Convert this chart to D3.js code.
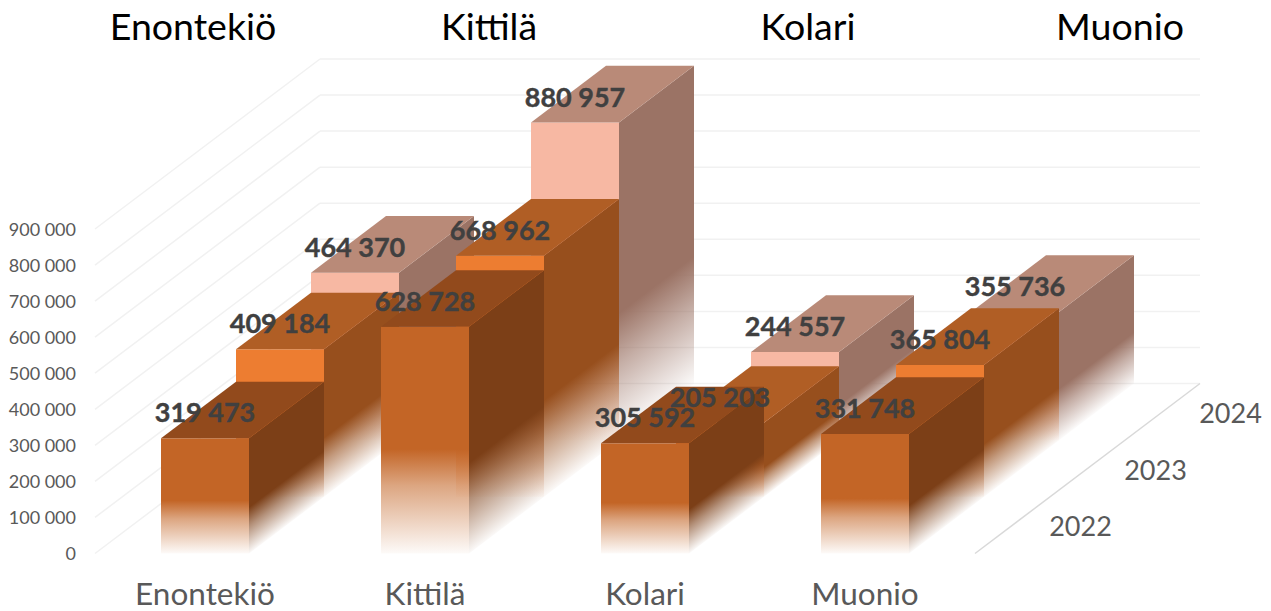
<!DOCTYPE html>
<html>
<head>
<meta charset="utf-8">
<script src="https://cdnjs.cloudflare.com/ajax/libs/d3/7.8.5/d3.min.js"></script>
<style>
  html, body { margin: 0; padding: 0; background: #fff; }
  text { font-family: Lato, "Open Sans", sans-serif; }
</style>
</head>
<body>
<script>
// Values
const municipalities = ["Enontekiö", "Kittilä", "Kolari", "Muonio"];
const years = ["2022", "2023", "2024"];
const values2022 = [319473, 628728, 305592, 331748];
const values2023 = [409184, 668962, 205203, 365804];
const values2024 = [464370, 880957, 244557, 355736];
const valueTicks = [0, 100000, 200000, 300000, 400000, 500000, 600000, 700000, 800000, 900000];
const headings = ["Enontekiö", "Kittilä", "Kolari", "Muonio"];

const width = 1271, height = 611;
const floor = { left: 95, right: 975, front: 553.5 };
const depthX = 225, depthY = 170; // how far the back wall is shifted from the front plane
const shear = -depthY / depthX;

const svg = d3.select("body").append("svg")
    .attr("width", width)
    .attr("height", height)
    .style("display", "block");

const xScale = d3.scaleBand().domain(municipalities).range([floor.left, floor.right]).paddingInner(0.6).paddingOuter(0.3);
const yScale = d3.scaleLinear().domain([0, 900000]).range([floor.front, floor.front - 324.5]);
const zScale = d3.scaleBand().domain(years).range([0, 1]);

const fmt = d3.formatLocale({ decimal: ",", thousands: " ", grouping: [3], currency: ["", ""] }).format(",d");

const seriesStyle = {
    "2022": { values: values2022, front: "#c36526", top: "#924a1c", side: "#7c3f17" },
    "2023": { values: values2023, front: "#ed7d31", top: "#b05e25", side: "#974f1d" },
    "2024": { values: values2024, front: "#f7b8a3", top: "#b98a78", side: "#9b7365" }
};

// Fading gradients, shared by the front and side faces
const defs = svg.append("defs");
years.forEach(y => {
    ["front", "side"].forEach(face => {
        const g = defs.append("linearGradient").attr("id", `fade-${y}-${face}`)
            .attr("x1", 0).attr("y1", 0).attr("x2", 0).attr("y2", 1);
        const col = seriesStyle[y][face];
        const start = face === "front" ? 0.54 : 0.6;
        g.append("stop").attr("offset", start).attr("stop-color", col);
        g.append("stop").attr("offset", start + 0.16).attr("stop-color", col).attr("stop-opacity", 0.58);
        g.append("stop").attr("offset", 1).attr("stop-color", col).attr("stop-opacity", 0.03);
    });
});

// Back wall gridlines
svg.append("g").selectAll("line").data(valueTicks).enter().append("line")
    .attr("x1", floor.left + depthX).attr("x2", floor.right + depthX)
    .attr("y1", d => yScale(d) - depthY).attr("y2", d => yScale(d) - depthY)
    .attr("stroke", "#f1f1f1").attr("stroke-width", 1.5);

// Side wall gridlines
svg.append("g").selectAll("line").data(valueTicks).enter().append("line")
    .attr("x1", floor.left).attr("x2", floor.left + depthX)
    .attr("y1", d => yScale(d)).attr("y2", d => yScale(d) - depthY)
    .attr("stroke", "#f1f1f1").attr("stroke-width", 1.5);

// Right edge of the floor
svg.append("line")
    .attr("x1", floor.right).attr("y1", floor.front)
    .attr("x2", floor.right + depthX).attr("y2", floor.front - depthY)
    .attr("stroke", "#d9d9d9").attr("stroke-width", 1.5);

// Bars, back row first
const stepX = depthX * zScale.bandwidth(), stepY = depthY * zScale.bandwidth();
years.slice().reverse().forEach(year => {
    const s = seriesStyle[year];
    const bars = svg.append("g").selectAll("g")
        .data(municipalities.map((m, i) => ({ m, v: s.values[i] })))
        .enter().append("g")
        .attr("transform", `translate(${depthX * zScale(year)},${-depthY * zScale(year)})`);

    bars.append("rect")
        .attr("x", d => xScale(d.m))
        .attr("y", d => yScale(d.v))
        .attr("width", xScale.bandwidth())
        .attr("height", d => yScale(0) - yScale(d.v))
        .attr("fill", `url(#fade-${year}-front)`);

    bars.append("rect")
        .attr("width", stepX)
        .attr("y", d => yScale(d.v) - yScale(0))
        .attr("height", d => yScale(0) - yScale(d.v))
        .attr("transform", d => `matrix(1,${shear},0,1,${xScale(d.m) + xScale.bandwidth()},${yScale(0)})`)
        .attr("fill", `url(#fade-${year}-side)`);

    bars.append("path")
        .attr("d", d => {
            const x0 = xScale(d.m), x1 = x0 + xScale.bandwidth(), y = yScale(d.v);
            return `M${x0},${y}L${x1},${y}L${x1 + stepX},${y - stepY}L${x0 + stepX},${y - stepY}Z`;
        })
        .attr("fill", s.top);
});

// Data labels on top of all the bars
years.forEach(year => {
    const s = seriesStyle[year];
    svg.append("g").selectAll("text")
        .data(municipalities.map((m, i) => ({ m, v: s.values[i] })))
        .enter().append("text")
        .attr("x", d => xScale(d.m) + xScale.bandwidth() / 2 + depthX * zScale(year))
        .attr("y", d => yScale(d.v) - depthY * zScale(year) - 16)
        .attr("text-anchor", "middle")
        .attr("font-size", 27)
        .attr("font-weight", 700)
        .attr("fill", "#404040")
        .attr("stroke", "#404040")
        .attr("stroke-width", 0.4)
        .text(d => fmt(d.v));
});

// Value axis
const yAxis = svg.append("g")
    .attr("transform", `translate(${floor.left - 14},0.5)`)
    .call(d3.axisLeft(yScale).tickValues(valueTicks).tickSize(0).tickPadding(5).tickFormat(fmt));
yAxis.select(".domain").remove();
yAxis.selectAll("text").attr("font-size", 18).attr("fill", "#595959").style("font-family", "Lato");

// Category axis
const xAxis = svg.append("g")
    .attr("transform", `translate(0,${floor.front + 26})`)
    .call(d3.axisBottom(xScale).tickSize(0).tickPadding(3));
xAxis.select(".domain").remove();
xAxis.selectAll("text").attr("font-size", 31.5).attr("fill", "#595959").style("font-family", "Lato");

// Depth axis
svg.append("g").selectAll("text").data(years).enter().append("text")
    .attr("x", d => floor.right + depthX * (zScale(d) + zScale.bandwidth() / 2) + 68)
    .attr("y", d => floor.front - depthY * (zScale(d) + zScale.bandwidth() / 2) + 11)
    .attr("text-anchor", "middle")
    .attr("font-size", 27)
    .attr("fill", "#595959")
    .text(d => d);

// Headings above the chart
const headingX = d3.scaleOrdinal().domain(headings).range([193, 489, 808, 1120]);
svg.append("g").selectAll("text").data(headings).enter().append("text")
    .attr("x", d => headingX(d))
    .attr("y", 40)
    .attr("text-anchor", "middle")
    .attr("font-size", 37.5)
    .attr("fill", "#000")
    .text(d => d);
</script>
</body>
</html>
